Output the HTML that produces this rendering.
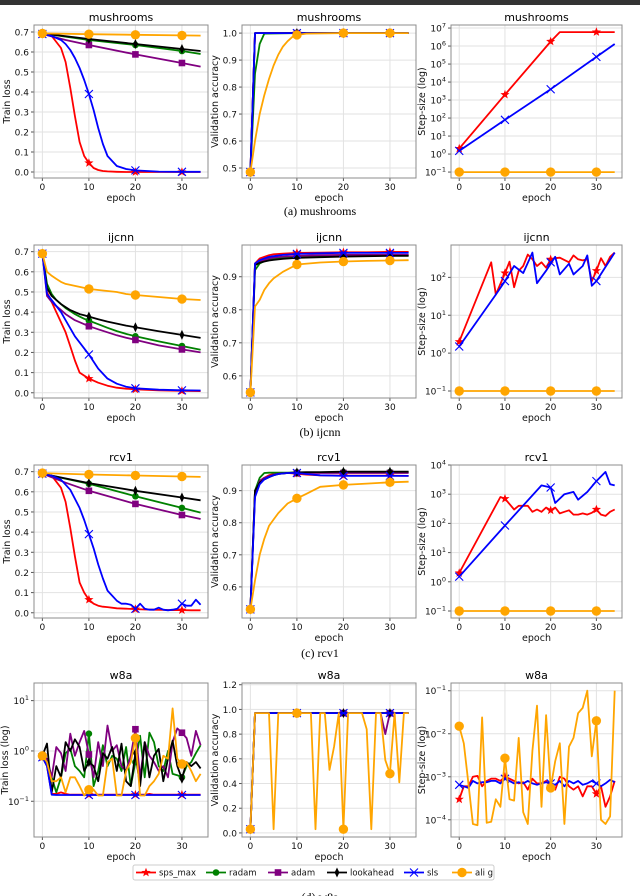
<!DOCTYPE html>
<html><head><meta charset="utf-8"><style>
html,body{margin:0;padding:0;background:#fff;width:640px;height:896px;overflow:hidden}
svg{display:block;font-family:"DejaVu Sans","Liberation Sans",sans-serif}
</style></head><body>
<svg id="fig" width="640" height="896" viewBox="0 0 640 896">
<rect x="0" y="0" width="640" height="5" fill="#333"/>
<g font-family="'Liberation Serif',serif" font-size="12" text-anchor="middle" fill="#000">
<text x="320" y="215">(a) mushrooms</text>
<text x="320" y="436">(b) ijcnn</text>
<text x="320" y="657">(c) rcv1</text>
<text x="320" y="901">(d) w8a</text>
</g>
</svg>
<script>
// ---------- DATA ----------
// mushrooms
const muLossX=[0,2,4,5,6,7,8,9,10,11,12,13,14,16,18,20,25,30,34];
const muLossSps=[0.69,0.68,0.62,0.55,0.42,0.28,0.15,0.08,0.045,0.02,0.01,0.005,0.003,0.001,0,0,0,0,0];
const muLossSls=[0.69,0.68,0.66,0.64,0.61,0.57,0.52,0.46,0.39,0.31,0.22,0.14,0.08,0.03,0.015,0.008,0.002,0.001,0.001];
const muLinX=[0,10,20,30,34];
const muLossAlig=[0.693,0.689,0.686,0.683,0.682];
const muLossLook=[0.693,0.665,0.64,0.615,0.605];
const muLossRadam=[0.693,0.66,0.635,0.605,0.59];
const muAdamX=[0,5,10,20,30,34];
const muLossAdam=[0.69,0.66,0.635,0.588,0.545,0.527];
const muAccFastX=[0,1,10,20,30,34];
const muAccSls=[0.485,1.0,1.0,1.0,1.0,1.0];
const muAccRadamX=[0,1,2,3,10,20,30,34];
const muAccRadam=[0.485,0.85,0.96,0.998,1.0,1.0,1.0,1.0];
const muAccAligX=[0,1,2,3,4,5,6,7,8,9,10,12,20,30,34];
const muAccAlig=[0.485,0.6,0.7,0.77,0.83,0.88,0.92,0.95,0.97,0.985,0.993,0.998,1.0,1.0,1.0];
const muStepSpsX=[0,10,20,22,30,34];
const muStepSps=[2,2000,1.8e6,6e6,6e6,6e6];
const muStepSlsX=[0,10,20,30,34];
const muStepSls=[1.5,80,4000,2.5e5,1.3e6];
const constStepX=[0,10,20,30,34];
const constStepAlig=[0.1,0.1,0.1,0.1,0.1];
// ijcnn
const ijLossX=[0,1,2,3,4,5,6,7,8,9,10,12,14,16,18,20,25,30,34];
const ijLossSps=[0.69,0.5,0.45,0.4,0.35,0.3,0.23,0.16,0.1,0.085,0.07,0.05,0.035,0.025,0.02,0.017,0.012,0.009,0.008];
const ijLossSls=[0.69,0.49,0.46,0.43,0.4,0.36,0.32,0.28,0.25,0.22,0.19,0.12,0.07,0.045,0.03,0.022,0.015,0.012,0.011];
const ijLossAlig=[0.69,0.6,0.58,0.565,0.55,0.54,0.535,0.53,0.525,0.52,0.515,0.51,0.505,0.5,0.49,0.485,0.475,0.465,0.46];
const ijLossLook=[0.69,0.52,0.48,0.46,0.44,0.425,0.41,0.4,0.39,0.385,0.378,0.365,0.353,0.343,0.333,0.325,0.305,0.287,0.272];
const ijLossRadam=[0.69,0.54,0.49,0.46,0.44,0.42,0.405,0.39,0.378,0.367,0.358,0.34,0.322,0.306,0.292,0.28,0.255,0.232,0.213];
const ijLossAdam=[0.69,0.48,0.45,0.43,0.41,0.39,0.375,0.36,0.35,0.34,0.33,0.315,0.3,0.285,0.273,0.262,0.235,0.215,0.2];
const ijAccX=[0,1,2,3,4,5,7,10,15,20,25,30,34];
const ijAccSps=[0.55,0.94,0.955,0.96,0.965,0.968,0.97,0.972,0.973,0.974,0.974,0.975,0.975];
const ijAccSls=[0.55,0.94,0.95,0.955,0.96,0.962,0.966,0.969,0.971,0.972,0.972,0.972,0.972];
const ijAccAdam=[0.55,0.935,0.945,0.95,0.955,0.958,0.961,0.963,0.965,0.966,0.966,0.966,0.966];
const ijAccRadam=[0.55,0.92,0.94,0.947,0.952,0.955,0.958,0.961,0.963,0.964,0.965,0.965,0.965];
const ijAccLook=[0.55,0.935,0.942,0.946,0.949,0.951,0.954,0.957,0.959,0.961,0.962,0.963,0.963];
const ijAccAlig=[0.55,0.81,0.83,0.86,0.88,0.895,0.915,0.937,0.943,0.946,0.948,0.949,0.95];
const ijStepSpsX=[0,7,8,10,11,12,13,14,15,16,17,18,19,20,21,22,24,25,26,27,28,29,30,31,32,33,34];
const ijStepSps=[2,250,35,130,260,55,150,200,400,300,200,250,180,300,320,330,250,380,300,280,300,80,150,320,200,350,450];
const ijStepSlsX=[0,8,10,12,14,16,17,19,21,22,24,25,27,28,29,30,34];
const ijStepSls=[1.5,35,80,200,130,450,70,150,350,120,230,120,200,380,60,80,450];
// rcv1
const rcLossSpsX=[0,2,4,5,6,7,8,9,10,11,12,13,14,16,18,20,22,24,26,28,30,32,34];
const rcLossSps=[0.69,0.68,0.62,0.55,0.42,0.28,0.15,0.1,0.065,0.045,0.035,0.03,0.028,0.022,0.02,0.018,0.016,0.015,0.014,0.013,0.013,0.012,0.012];
const rcLossSlsX=[0,2,4,6,8,9,10,11,12,13,14,16,17,18,19,20,21,22,23,24,25,26,27,28,29,30,31,32,33,34];
const rcLossSls=[0.69,0.68,0.66,0.61,0.52,0.46,0.39,0.32,0.24,0.17,0.11,0.06,0.045,0.045,0.04,0.02,0.045,0.02,0.015,0.015,0.025,0.015,0.012,0.015,0.02,0.045,0.035,0.035,0.065,0.04];
const rcLossAlig=[0.693,0.686,0.681,0.676,0.674];
const rcLossLook=[0.69,0.643,0.605,0.572,0.558];
const rcLossRadam=[0.69,0.64,0.578,0.52,0.497];
const rcLossAdamX=[0,5,10,20,30,34];
const rcLossAdam=[0.69,0.645,0.605,0.54,0.485,0.465];
const rcAccX=[0,1,2,3,4,5,6,8,10,12,15,20,25,30,34];
const rcAccRadam=[0.53,0.9,0.94,0.955,0.956,0.956,0.956,0.956,0.957,0.957,0.957,0.958,0.958,0.958,0.958];
const rcAccLook=[0.53,0.9,0.925,0.935,0.942,0.948,0.952,0.955,0.957,0.958,0.958,0.959,0.959,0.959,0.959];
const rcAccSps=[0.53,0.9,0.93,0.94,0.948,0.952,0.955,0.955,0.953,0.95,0.948,0.947,0.947,0.947,0.946];
const rcAccSls=[0.53,0.88,0.92,0.935,0.943,0.948,0.952,0.955,0.955,0.952,0.948,0.946,0.946,0.946,0.946];
const rcAccAdam=[0.53,0.89,0.93,0.94,0.945,0.95,0.953,0.955,0.955,0.955,0.955,0.955,0.955,0.955,0.955];
const rcAccAlig=[0.53,0.62,0.7,0.75,0.79,0.81,0.83,0.86,0.876,0.89,0.912,0.918,0.922,0.926,0.928];
const rcStepSpsX=[0,9,10,12,13,15,16,17,18,19,20,21,22,23,24,25,26,27,28,29,30,31,32,33,34];
const rcStepSps=[2,800,700,300,400,400,250,300,250,350,280,350,220,250,280,200,200,220,200,230,300,200,180,250,300];
const rcStepSlsX=[0,10,18,20,21,23,25,26,28,30,32,33,34];
const rcStepSls=[1.5,85,2000,1700,500,1000,1200,650,1200,2800,5800,2200,2000];
// w8a (epochs 0..34)
const wEpochs=[0,1,2,3,4,5,6,7,8,9,10,11,12,13,14,15,16,17,18,19,20,21,22,23,24,25,26,27,28,29,30,31,32,33,34];
const wLossSps=[0.75,0.5,0.14,0.14,0.15,0.14,0.135,0.135,0.135,0.135,0.135,0.135,0.135,0.135,0.135,0.135,0.135,0.135,0.135,0.135,0.135,0.135,0.135,0.14,0.135,0.135,0.135,0.135,0.135,0.135,0.135,0.135,0.135,0.135,0.135];
const wLossSls=[0.75,0.5,0.135,0.133,0.133,0.133,0.133,0.133,0.133,0.133,0.133,0.133,0.133,0.133,0.133,0.133,0.133,0.133,0.133,0.133,0.133,0.133,0.133,0.133,0.133,0.133,0.133,0.133,0.133,0.133,0.133,0.133,0.133,0.133,0.133];
const wLossAdam=[0.8,0.7,0.3,1.2,0.9,0.4,2.2,0.8,1.5,2.5,0.85,0.3,1.5,0.5,3.2,1.0,1.3,0.5,0.4,0.8,2.7,0.3,1.5,0.8,0.6,0.4,0.5,0.3,1.5,2.8,2.3,1.8,0.8,2.5,1.3];
const wLossRadam=[0.8,0.6,0.3,0.15,0.3,0.9,1.1,0.5,0.4,0.3,2.2,0.2,0.4,1.3,0.5,0.8,0.7,0.4,1.2,0.2,0.6,2.0,0.3,2.3,1.5,0.5,0.4,1.0,0.35,0.33,0.3,0.5,0.6,0.9,1.3];
const wLossLook=[0.8,1.4,0.15,0.5,0.3,1.5,1.0,1.7,1.2,0.4,0.6,0.5,0.25,0.9,0.7,1.2,0.4,1.4,0.25,0.2,0.9,0.2,1.5,0.3,0.8,1.1,0.25,0.7,1.6,0.5,0.28,0.6,0.5,0.6,0.45];
const wLossAlig=[0.8,0.6,0.25,0.25,0.3,0.15,0.3,0.3,0.2,0.13,0.17,0.17,0.13,0.13,0.6,0.7,0.13,0.13,0.4,0.6,1.8,0.13,0.13,0.2,0.25,0.35,0.8,0.7,7.0,0.7,0.55,0.6,0.4,0.25,0.35];
const wAccSls=[0.03,0.97,0.97,0.97,0.97,0.97,0.97,0.97,0.97,0.97,0.97,0.97,0.97,0.97,0.97,0.97,0.97,0.97,0.97,0.97,0.97,0.97,0.97,0.97,0.97,0.97,0.97,0.97,0.97,0.97,0.97,0.97,0.97,0.97,0.97];
const wAccAdam=[0.03,0.97,0.97,0.97,0.97,0.97,0.97,0.97,0.97,0.97,0.97,0.97,0.97,0.97,0.97,0.97,0.97,0.97,0.97,0.97,0.97,0.97,0.97,0.97,0.97,0.97,0.97,0.97,0.97,0.8,0.97,0.97,0.97,0.97,0.97];
const wAccAlig=[0.03,0.97,0.97,0.97,0.97,0.03,0.97,0.97,0.97,0.97,0.97,0.97,0.97,0.97,0.03,0.97,0.97,0.51,0.7,0.97,0.03,0.97,0.97,0.97,0.97,0.84,0.03,0.97,0.97,0.59,0.48,0.97,0.41,0.97,0.97];
const wStepSls=[6.5e-4,6e-4,5.5e-4,8e-4,7e-4,7.5e-4,7.5e-4,8e-4,8e-4,7e-4,9e-4,8e-4,7e-4,7.5e-4,7e-4,8e-4,7e-4,6.5e-4,7e-4,7.5e-4,7e-4,6.5e-4,8e-4,6e-4,8e-4,7e-4,8e-4,6.5e-4,7e-4,8e-4,7e-4,6e-4,7e-4,8.5e-4,7.5e-4];
const wStepSps=[3e-4,6e-4,6e-4,1e-3,1.05e-3,6e-4,8e-4,9e-4,9e-4,8e-4,1e-3,9e-4,8e-4,7e-4,7.5e-4,5e-4,9e-4,7e-4,7e-4,8e-4,6e-4,5e-4,1e-3,9e-4,6e-4,5e-4,6e-4,3.5e-4,6e-4,6e-4,4e-4,6e-4,2e-4,3.5e-4,8e-4];
const wStepAlig=[1.5e-2,6e-3,7e-4,8e-5,7.5e-5,2.4e-2,8.5e-5,9e-5,3e-4,2e-4,2.7e-3,3e-4,2.8e-4,8e-3,1.5e-4,8e-5,4e-3,4.5e-2,2e-4,2.7e-2,5.5e-4,2.3e-3,6e-3,8e-5,5e-3,8e-3,3e-2,4e-2,1e-1,3e-3,2e-2,1e-4,8e-5,1.2e-4,1e-1];
// ticks
const xTicks=[0,10,20,30];
const lossTicks=[0,0.1,0.2,0.3,0.4,0.5,0.6,0.7];
const muAccTicks=[0.5,0.6,0.7,0.8,0.9,1.0];
const accTicks69=[0.6,0.7,0.8,0.9];
const w8aAccTicks=[0,0.2,0.4,0.6,0.8,1.0,1.2];
const muStepTicks=[-1,0,1,2,3,4,5,6,7];
const ijStepTicks=[-1,0,1,2];
const rcStepTicks=[-1,0,1,2,3,4];
const wLossTicks=[-1,0,1];
const wStepTicks=[-4,-3,-2,-1];

// ---------- RENDER ----------
const NS='http://www.w3.org/2000/svg';
const svg=document.getElementById('fig');
const COL={sps:'#ff0000',radam:'#008000',adam:'#800080',look:'#000000',sls:'#0000ff',alig:'#ffa500'};
function mk(tag,attrs,parent){const e=document.createElementNS(NS,tag);for(const k in attrs)e.setAttribute(k,attrs[k]);(parent||svg).appendChild(e);return e;}
function interp(xs,ys,x){for(let i=0;i<xs.length-1;i++){if(x>=xs[i]&&x<=xs[i+1]){const t=(x-xs[i])/(xs[i+1]-xs[i]||1);return ys[i]+t*(ys[i+1]-ys[i]);}}return ys[ys.length-1];}
function marker(g,kind,x,y){
  let m;const c=COL[kind];
  if(kind==='sps'){let p=[];for(let i=0;i<10;i++){const r=i%2?2:4.8,a=-Math.PI/2+i*Math.PI/5;p.push((x+r*Math.cos(a)).toFixed(1)+','+(y+r*Math.sin(a)).toFixed(1));}m=mk('polygon',{points:p.join(' '),fill:c},g);}
  else if(kind==='radam'){m=mk('circle',{cx:x,cy:y,r:3.3,fill:c},g);}
  else if(kind==='adam'){m=mk('rect',{x:x-3.3,y:y-3.3,width:6.6,height:6.6,fill:c},g);}
  else if(kind==='look'){m=mk('polygon',{points:`${x},${y-5} ${x+2.4},${y} ${x},${y+5} ${x-2.4},${y}`,fill:c},g);}
  else if(kind==='sls'){m=mk('path',{d:`M${x-4} ${y-4}L${x+4} ${y+4}M${x-4} ${y+4}L${x+4} ${y-4}`,stroke:c,'stroke-width':1.1,fill:'none'},g);}
  else {m=mk('circle',{cx:x,cy:y,r:4.7,fill:c},g);}
  
  
}
const legendNames={sps:'sps_max',radam:'radam',adam:'adam',look:'lookahead',sls:'sls',alig:'ali g'};
let clipId=0;
function panel(cfg){
  const L=cfg.left,T=cfg.top,W=cfg.w,H=cfg.h;
  const xmin=-1.8,xmax=35.6;
  const sx=v=>L+(v-xmin)/(xmax-xmin)*W;
  const ty=v=>cfg.log?Math.log10(v):v;
  const sy=v=>T+H-(ty(v)-cfg.ymin)/(cfg.ymax-cfg.ymin)*H;
  const syRaw=v=>T+H-(v-cfg.ymin)/(cfg.ymax-cfg.ymin)*H;
  const g=mk('g',{});
  
  
  const bg=mk('rect',{x:L,y:T,width:W,height:H,fill:'#fff'},g);
  
  
  xTicks.forEach(t=>{
    const gl=mk('line',{x1:sx(t),x2:sx(t),y1:T,y2:T+H,stroke:'#e2e2e2','stroke-width':1},g);
    
    
    const tk=mk('line',{x1:sx(t),x2:sx(t),y1:T+H,y2:T+H+3,stroke:'#555'},g);
    
    
    const tl=mk('text',{x:sx(t),y:T+H+12,'font-size':9,'text-anchor':'middle',fill:'#111'},g);
    tl.textContent=t;
    
    
  });
  cfg.yticks.forEach(t=>{
    const y=syRaw(t);
    const gl=mk('line',{x1:L,x2:L+W,y1:y,y2:y,stroke:'#e2e2e2','stroke-width':1},g);
    
    
    const tk=mk('line',{x1:L-3,x2:L,y1:y,y2:y,stroke:'#555'},g);
    
    
    const tl=mk('text',{x:L-5,y:y+3.5,'font-size':9,'text-anchor':'end',fill:'#111'},g);
    if(cfg.log){tl.textContent='10';const sp=mk('tspan',{dy:-4,'font-size':6.5},tl);sp.textContent=(t<0?'\u2212':'')+Math.abs(t);}
    else tl.textContent=t.toFixed(1);
    
    
  });
  const cp=mk('clipPath',{id:'cp'+(++clipId)},g);
  mk('rect',{x:L,y:T,width:W,height:H},cp);
  const sg=mk('g',{'clip-path':'url(#cp'+clipId+')'},g);
  
  
  cfg.series.forEach(s=>{
    const pts=s.x.map((xv,i)=>sx(xv).toFixed(1)+','+sy(s.y[i]).toFixed(1)).join(' ');
    const pl=mk('polyline',{points:pts,fill:'none',stroke:COL[s.k],'stroke-width':1.8,'stroke-linejoin':'round'},sg);
    
    
    (s.marks||xTicks).forEach(m=>{marker(sg,s.k,sx(m),sy(interp(s.x,s.y,m)));});
  });
  const fr=mk('rect',{x:L,y:T,width:W,height:H,fill:'none',stroke:'#8c8c8c','stroke-width':1},g);
  
  
  const ti=mk('text',{x:L+W/2,y:T-4,'font-size':11,'text-anchor':'middle',fill:'#000'},g);
  ti.textContent=cfg.title;
  
  
  const xl=mk('text',{x:L+W/2,y:T+H+23,'font-size':9.5,'text-anchor':'middle',fill:'#111'},g);
  xl.textContent='epoch';
  
  
  const yx=L-(cfg.log?26:24),yy=T+H/2;
  const yl=mk('text',{x:yx,y:yy,'font-size':9.5,'text-anchor':'middle',fill:'#111',transform:`rotate(-90 ${yx} ${yy})`},g);
  yl.textContent=cfg.ylabel;
  
  
}
const C=[34,242,451],R=[25,245,465,683],W=174,H=153;
const S=(k,x,y,marks)=>({k,x,y,marks});
panel({name:'mushrooms-train-loss',left:C[0],top:R[0],w:W,h:H,ymin:-0.03,ymax:0.735,yticks:lossTicks,ylabel:'Train loss',title:'mushrooms',
 series:[S('sps',muLossX,muLossSps),S('radam',muLinX,muLossRadam),S('adam',muAdamX,muLossAdam),S('look',muLinX,muLossLook),S('sls',muLossX,muLossSls),S('alig',muLinX,muLossAlig)]});
panel({name:'mushrooms-val-acc',left:C[1],top:R[0],w:W,h:H,ymin:0.463,ymax:1.03,yticks:muAccTicks,ylabel:'Validation accuracy',title:'mushrooms',
 series:[S('sps',muAccFastX,muAccSls),S('radam',muAccRadamX,muAccRadam),S('adam',muAccFastX,muAccSls),S('look',muAccFastX,muAccSls),S('sls',muAccFastX,muAccSls),S('alig',muAccAligX,muAccAlig)]});
panel({name:'mushrooms-step-size',left:C[2],top:R[0],w:171,h:H,log:true,ymin:-1.33,ymax:7.17,yticks:muStepTicks,ylabel:'Step-size (log)',title:'mushrooms',
 series:[S('sps',muStepSpsX,muStepSps),S('sls',muStepSlsX,muStepSls),S('alig',constStepX,constStepAlig)]});
panel({name:'ijcnn-train-loss',left:C[0],top:R[1],w:W,h:H,ymin:-0.026,ymax:0.733,yticks:lossTicks,ylabel:'Train loss',title:'ijcnn',
 series:[S('sps',ijLossX,ijLossSps),S('radam',ijLossX,ijLossRadam),S('adam',ijLossX,ijLossAdam),S('look',ijLossX,ijLossLook),S('sls',ijLossX,ijLossSls),S('alig',ijLossX,ijLossAlig)]});
panel({name:'ijcnn-val-acc',left:C[1],top:R[1],w:W,h:H,ymin:0.533,ymax:0.996,yticks:accTicks69,ylabel:'Validation accuracy',title:'ijcnn',
 series:[S('sps',ijAccX,ijAccSps),S('radam',ijAccX,ijAccRadam),S('adam',ijAccX,ijAccAdam),S('look',ijAccX,ijAccLook),S('sls',ijAccX,ijAccSls),S('alig',ijAccX,ijAccAlig)]});
panel({name:'ijcnn-step-size',left:C[2],top:R[1],w:171,h:H,log:true,ymin:-1.185,ymax:2.855,yticks:ijStepTicks,ylabel:'Step-size (log)',title:'ijcnn',
 series:[S('sps',ijStepSpsX,ijStepSps),S('sls',ijStepSlsX,ijStepSls),S('alig',constStepX,constStepAlig)]});
panel({name:'rcv1-train-loss',left:C[0],top:R[2],w:W,h:H,ymin:-0.026,ymax:0.733,yticks:lossTicks,ylabel:'Train loss',title:'rcv1',
 series:[S('sps',rcLossSpsX,rcLossSps),S('radam',muLinX,rcLossRadam),S('adam',rcLossAdamX,rcLossAdam),S('look',muLinX,rcLossLook),S('sls',rcLossSlsX,rcLossSls),S('alig',muLinX,rcLossAlig)]});
panel({name:'rcv1-val-acc',left:C[1],top:R[2],w:W,h:H,ymin:0.503,ymax:0.98,yticks:accTicks69,ylabel:'Validation accuracy',title:'rcv1',
 series:[S('sps',rcAccX,rcAccSps),S('radam',rcAccX,rcAccRadam),S('adam',rcAccX,rcAccAdam),S('look',rcAccX,rcAccLook),S('sls',rcAccX,rcAccSls),S('alig',rcAccX,rcAccAlig)]});
panel({name:'rcv1-step-size',left:C[2],top:R[2],w:171,h:H,log:true,ymin:-1.24,ymax:4.0,yticks:rcStepTicks,ylabel:'Step-size (log)',title:'rcv1',
 series:[S('sps',rcStepSpsX,rcStepSps),S('sls',rcStepSlsX,rcStepSls),S('alig',constStepX,constStepAlig)]});
panel({name:'w8a-train-loss',left:C[0],top:R[3],w:W,h:H+1,log:true,ymin:-1.71,ymax:1.35,yticks:wLossTicks,ylabel:'Train loss (log)',title:'w8a',
 series:[S('sps',wEpochs,wLossSps),S('radam',wEpochs,wLossRadam),S('adam',wEpochs,wLossAdam),S('look',wEpochs,wLossLook),S('sls',wEpochs,wLossSls),S('alig',wEpochs,wLossAlig)]});
panel({name:'w8a-val-acc',left:C[1],top:R[3],w:W,h:H+1,ymin:-0.033,ymax:1.214,yticks:w8aAccTicks,ylabel:'Validation accuracy',title:'w8a',
 series:[S('sps',wEpochs,wAccSls),S('radam',wEpochs,wAccSls),S('adam',wEpochs,wAccAdam),S('look',wEpochs,wAccSls),S('sls',wEpochs,wAccSls),S('alig',wEpochs,wAccAlig)]});
panel({name:'w8a-step-size',left:C[2],top:R[3],w:171,h:H+1,log:true,ymin:-4.4,ymax:-0.82,yticks:wStepTicks,ylabel:'Step-size (log)',title:'w8a',
 series:[S('sps',wEpochs,wStepSps),S('sls',wEpochs,wStepSls),S('alig',wEpochs,wStepAlig)]});
// legend
const lg=mk('g',{});


const lb=mk('rect',{x:133,y:865,width:361,height:15,fill:'#fff',stroke:'#ccc','stroke-width':1,rx:2},lg);


const legKeys=['sps','radam','adam','look','sls','alig'];
const legX=[136,206,268,327,404,452];
legKeys.forEach((k,i)=>{
  const x=legX[i],y=872.5;
  const ln=mk('line',{x1:x,x2:x+20,y1:y,y2:y,stroke:COL[k],'stroke-width':1.8},lg);
  
  
  marker(lg,k,x+10,y);
  const tx=mk('text',{x:x+23,y:y+3,'font-size':8.5,fill:'#111'},lg);
  tx.textContent=legendNames[k];
  
  
});
</script>
</body></html>
